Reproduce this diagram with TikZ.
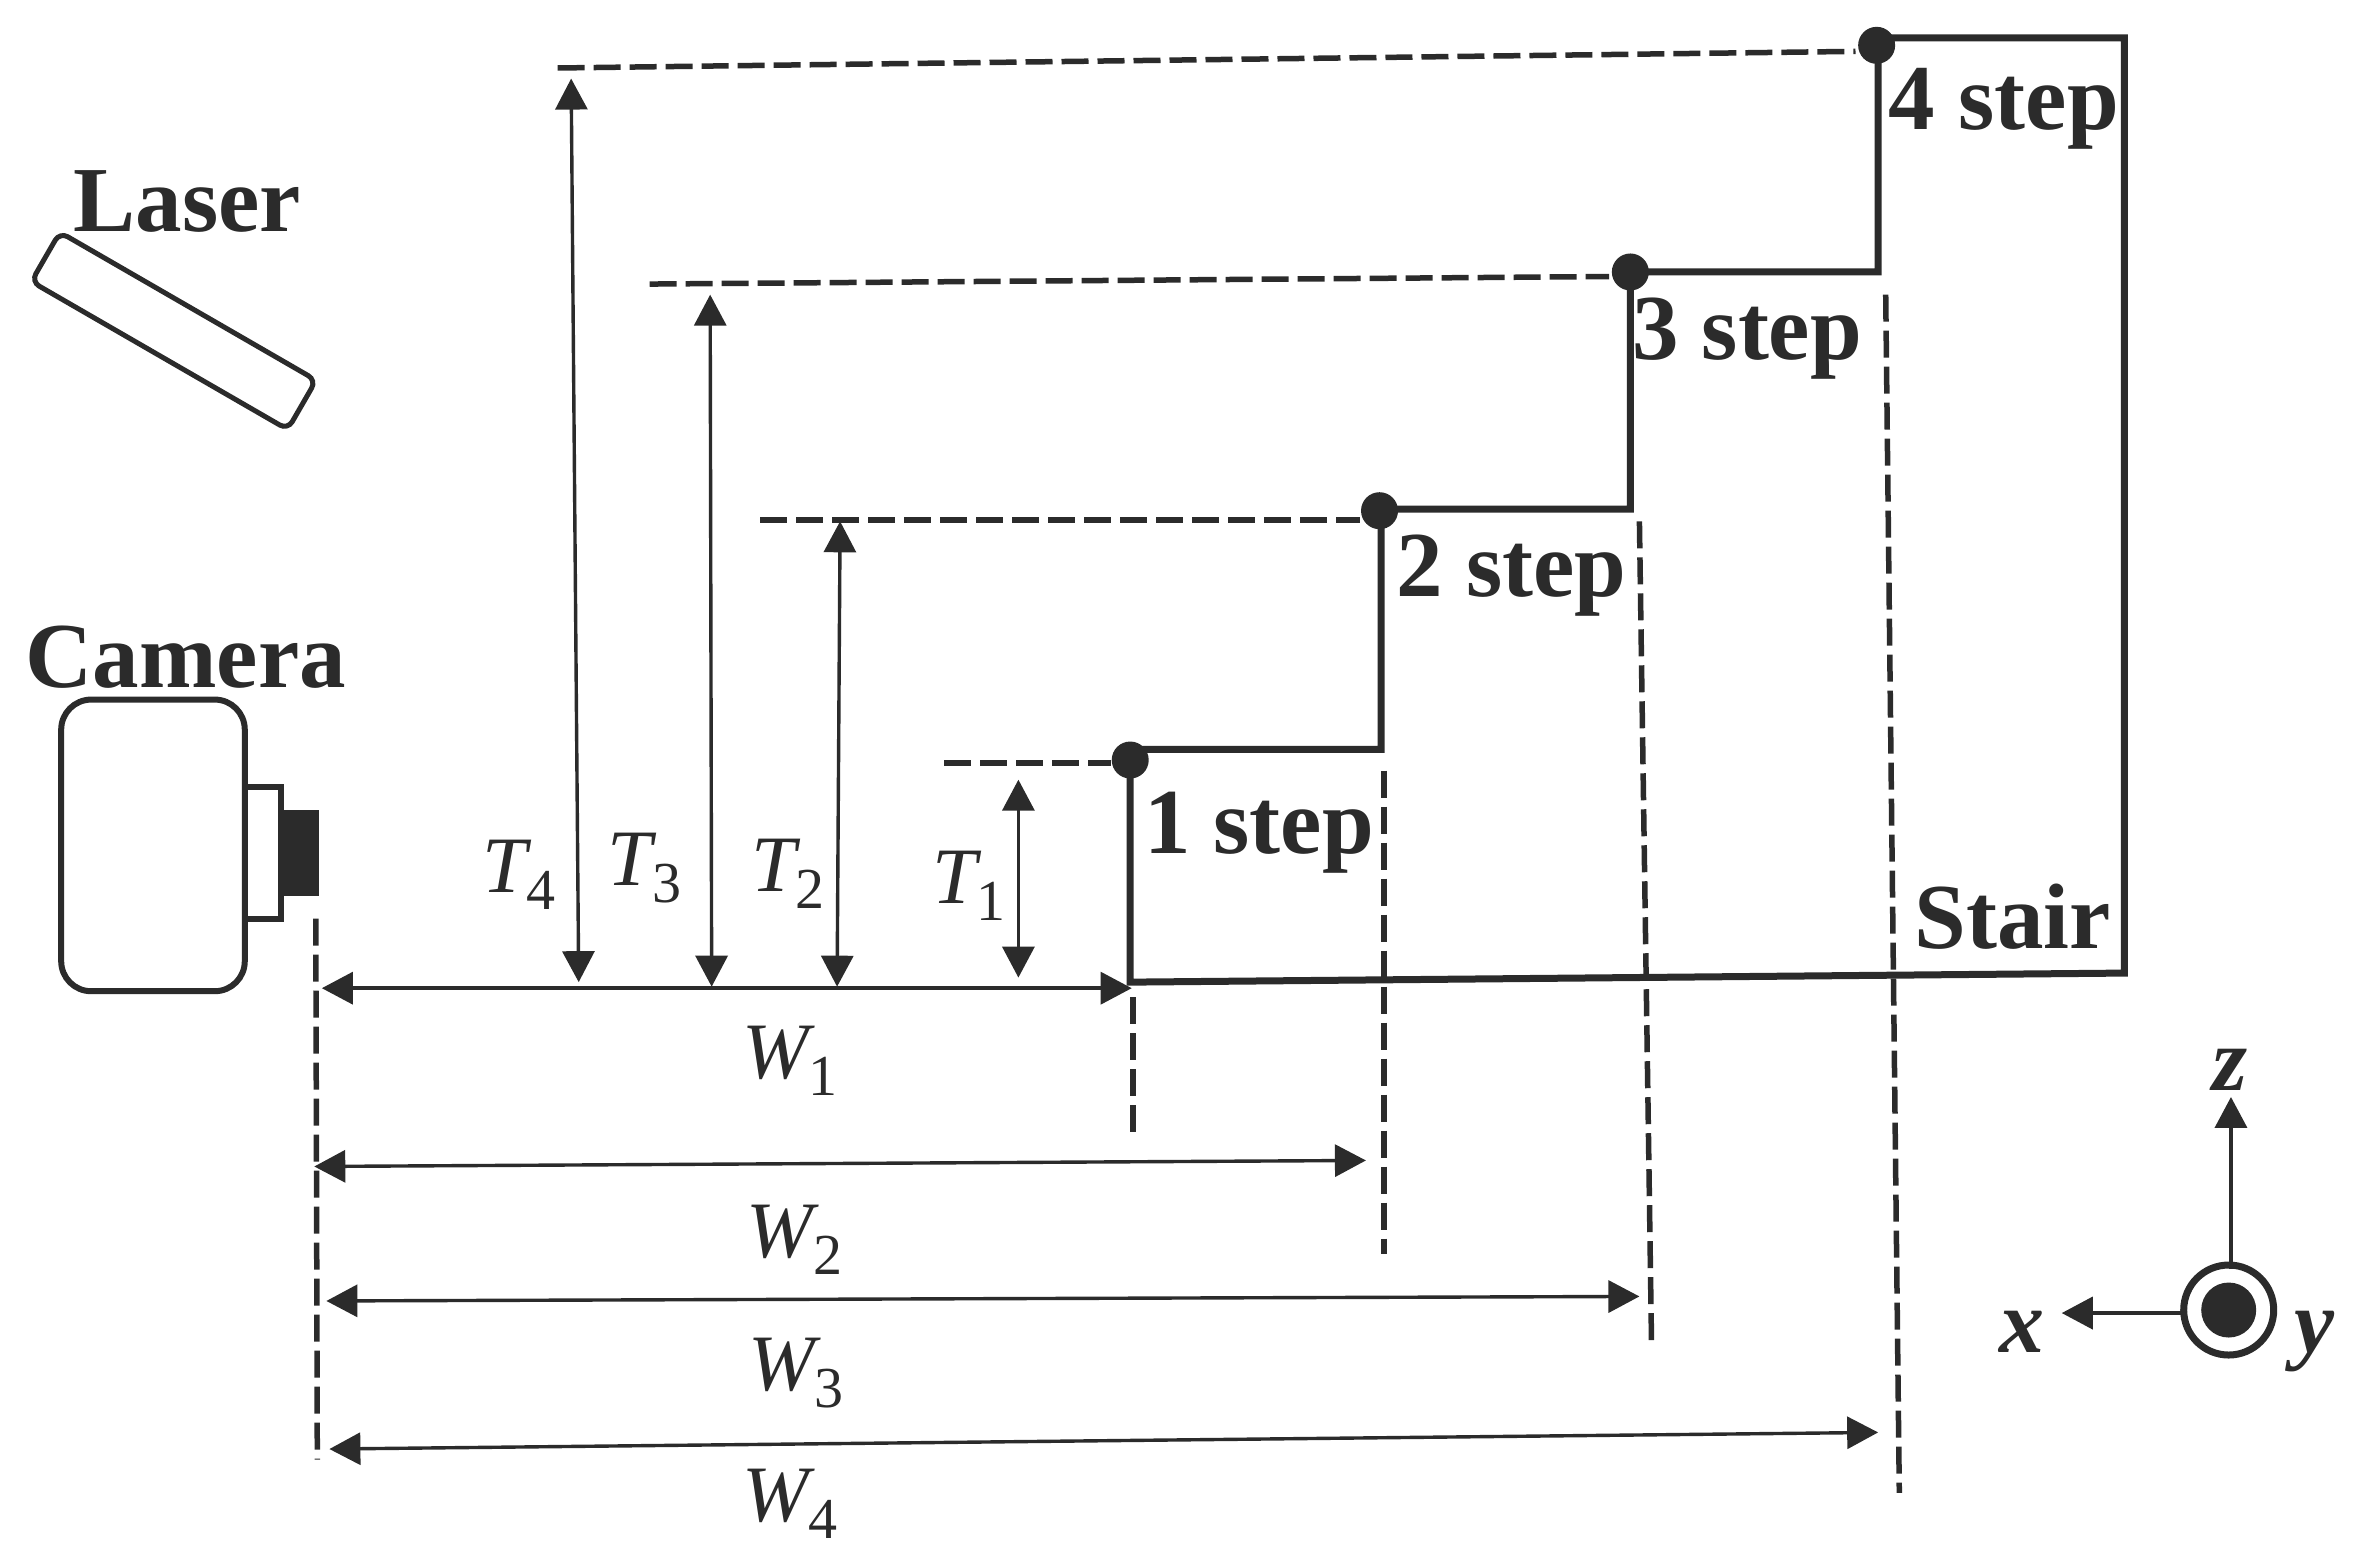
\documentclass[tikz,border=0pt]{standalone}
\usepackage{fontspec}
\setmainfont{Liberation Serif}
\usetikzlibrary{arrows.meta}
\definecolor{ink}{HTML}{2B2B2B}
\newcommand{\sublab}[2]{{\itshape #1}\raisebox{-17pt}{\fontsize{58}{58}\selectfont #2}}
\tikzset{
  wall/.style={draw=ink,line width=7pt,line join=miter},
  camline/.style={draw=ink,line width=6pt},
  guide/.style={draw=ink,line width=5.5pt,dash pattern=on 27pt off 9pt},
  dim/.style={draw=ink,line width=3.4pt,{Triangle[length=31pt,width=32pt]}-{Triangle[length=31pt,width=32pt]}},
  axis/.style={draw=ink,line width=3.8pt,-{Triangle[length=31pt,width=32pt]}},
  corner/.style={circle,fill=ink,inner sep=0pt,minimum size=37pt},
  boldlab/.style={text=ink,inner sep=0pt,font=\fontsize{93}{93}\selectfont\bfseries},
  mathlab/.style={text=ink,inner sep=0pt,anchor=base west,font=\fontsize{80}{80}\selectfont},
  axlab/.style={text=ink,inner sep=0pt,anchor=base,font=\fontsize{90}{90}\selectfont\bfseries\itshape},
}
\begin{document}
\begin{tikzpicture}[x=1.511pt,y=-1.511pt]
\useasboundingbox (0,0) rectangle (1567.2,1034.4);
% stair
\coordinate (s0) at (748,650);
\coordinate (s1) at (748,496);
\coordinate (s2) at (914,496);
\coordinate (s3) at (914,337);
\coordinate (s4) at (1079,337);
\coordinate (s5) at (1079,180);
\coordinate (s6) at (1243,180);
\coordinate (s7) at (1243,25);
\coordinate (s8) at (1406,25);
\coordinate (s9) at (1406,644);
\draw[wall] (s0) -- (s1) -- (s2) -- (s3) -- (s4) -- (s5) -- (s6) -- (s7) -- (s8) -- (s9) -- cycle;
\node[corner] (d1) at (748,503) {};
\node[corner] (d2) at (913,338) {};
\node[corner] (d3) at (1079,180) {};
\node[corner] (d4) at (1242,30) {};
% horizontal guides
\coordinate (h1) at (625,505); \coordinate (h1e) at (735,505);
\coordinate (h2) at (503,344); \coordinate (h2e) at (900,344);
\coordinate (h3) at (430,188); \coordinate (h3e) at (1065,183);
\coordinate (h4) at (369,45);  \coordinate (h4e) at (1228,34);
\draw[guide] (h1) -- (h1e);
\draw[guide] (h2) -- (h2e);
\draw[guide] (h3) -- (h3e);
\draw[guide] (h4) -- (h4e);
% vertical guides
\coordinate (v0) at (209,608); \coordinate (v0e) at (210,966);
\coordinate (v1) at (750,660); \coordinate (v1e) at (750,752);
\coordinate (v2) at (916,510); \coordinate (v2e) at (916,830);
\coordinate (v3) at (1085,345); \coordinate (v3e) at (1093,888);
\coordinate (v4) at (1248,195); \coordinate (v4e) at (1257,988);
\draw[guide] (v0) -- (v0e);
\draw[guide] (v1) -- (v1e);
\draw[guide] (v2) -- (v2e);
\draw[guide] (v3) -- (v3e);
\draw[guide] (v4) -- (v4e);
% width dimensions
\coordinate (w1a) at (213,654); \coordinate (w1b) at (749,654);
\coordinate (w2a) at (208,772); \coordinate (w2b) at (904,768);
\coordinate (w3a) at (216,861); \coordinate (w3b) at (1085,858);
\coordinate (w4a) at (218,959); \coordinate (w4b) at (1243,948);
\draw[dim] (w1a) -- (w1b);
\draw[dim] (w2a) -- (w2b);
\draw[dim] (w3a) -- (w3b);
\draw[dim] (w4a) -- (w4b);
% height dimensions
\coordinate (t1a) at (674,516); \coordinate (t1b) at (674,647);
\coordinate (t2a) at (556,345); \coordinate (t2b) at (554,653);
\coordinate (t3a) at (470,195); \coordinate (t3b) at (471,653);
\coordinate (t4a) at (378,52);  \coordinate (t4b) at (383,650);
\draw[dim] (t1a) -- (t1b);
\draw[dim] (t2a) -- (t2b);
\draw[dim] (t3a) -- (t3b);
\draw[dim] (t4a) -- (t4b);
% laser
\node[draw=ink,line width=5pt,rounded corners=9pt,rotate=-30,minimum width=296pt,minimum height=57pt,inner sep=0pt] (laser) at (115,219) {};
% camera
\draw[camline,rounded corners=30pt] (40.5,463) rectangle (162,656);
\draw[camline] (162,521) -- (186,521) -- (186,608) -- (162,608);
\fill[ink] (186,536) rectangle (211,593);
% axes
\node[circle,draw=ink,line width=7pt,minimum size=90pt,inner sep=0pt] (yring) at (1475,867) {};
\node[circle,fill=ink,minimum size=55pt,inner sep=0pt] (ydot) at (1475,867) {};
\coordinate (ztip) at (1476.5,726);
\coordinate (xtip) at (1364.5,869);
\coordinate (zroot) at (1476.5,840);
\coordinate (xroot) at (1445,869);
\draw[axis] (zroot) -- (ztip);
\draw[axis] (xroot) -- (xtip);
% labels
\node[boldlab,anchor=base] (lLaser) at (124,153) {Laser};
\node[boldlab,anchor=base] (lCamera) at (123,455) {Camera};
\node[boldlab,anchor=base west] (l1) at (757,565) {1 step};
\node[boldlab,anchor=base west] (l2) at (924,395) {2 step};
\node[boldlab,anchor=base west] (l3) at (1080,238) {3 step};
\node[boldlab,anchor=base west] (l4) at (1250,86) {4 step};
\node[boldlab,anchor=base west] (lStair) at (1267,628) {Stair};
\node[mathlab] (T4) at (319,591) {\sublab{T}{4}};
\node[mathlab] (T3) at (402,586) {\sublab{T}{3}};
\node[mathlab] (T2) at (497,590) {\sublab{T}{2}};
\node[mathlab] (T1) at (617,598) {\sublab{T}{1}};
\node[mathlab] (W1) at (491,714) {\sublab{W}{1}};
\node[mathlab] (W2) at (494,832) {\sublab{W}{2}};
\node[mathlab] (W3) at (495,920) {\sublab{W}{3}};
\node[mathlab] (W4) at (491,1007) {\sublab{W}{4}};
\node[axlab] (lz) at (1476,722) {z};
\node[axlab] (lx) at (1338,895) {x};
\node[axlab] (ly) at (1532,895) {y};
\end{tikzpicture}
\end{document}
